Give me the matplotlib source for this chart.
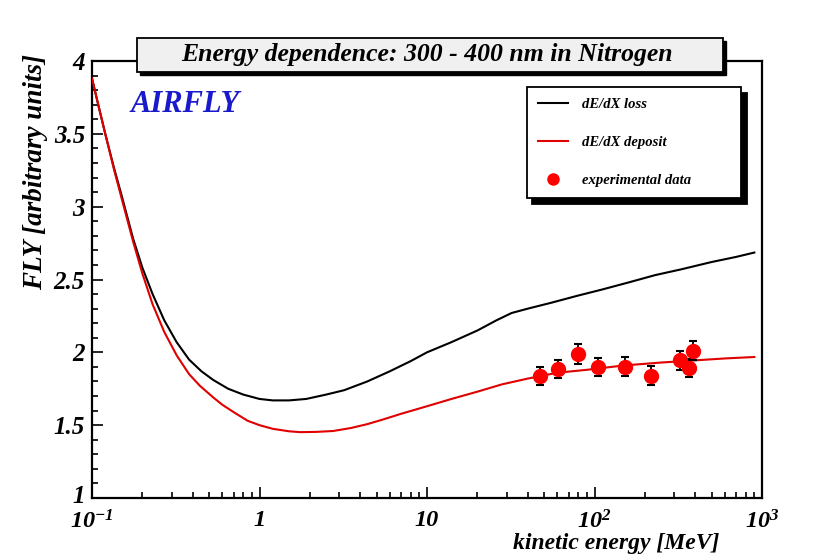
import matplotlib
matplotlib.use("Agg")
import matplotlib.pyplot as plt
import matplotlib.transforms as mtransforms
from matplotlib.patches import Rectangle
from matplotlib.lines import Line2D
import numpy as np

plt.rcParams['font.family'] = ['Liberation Serif', 'DejaVu Serif']
plt.rcParams['mathtext.fontset'] = 'custom'
plt.rcParams['mathtext.rm'] = 'Liberation Serif:italic:bold'
plt.rcParams['mathtext.bf'] = 'Liberation Serif:italic:bold'
plt.rcParams['mathtext.it'] = 'Liberation Serif:italic:bold'

# energy dependence curves (MeV, FLY)
loss_e = [0.1, 0.11, 0.12, 0.135, 0.15, 0.176, 0.2, 0.23, 0.27, 0.32, 0.38, 0.45,
          0.53, 0.65, 0.8, 1.0, 1.2, 1.5, 1.9, 2.5, 3.2, 4.4, 6, 8, 10, 14, 20,
          26, 32, 40, 55, 80, 110, 160, 230, 330, 500, 700, 900]
loss_fly = [3.88, 3.68, 3.50, 3.27, 3.08, 2.78, 2.58, 2.40, 2.22, 2.07, 1.95, 1.87,
            1.81, 1.75, 1.71, 1.68, 1.67, 1.67, 1.68, 1.71, 1.74, 1.80, 1.87, 1.94,
            2.00, 2.07, 2.15, 2.22, 2.27, 2.30, 2.34, 2.39, 2.43, 2.48, 2.53, 2.57,
            2.62, 2.655, 2.685]

dep_e = [0.1, 0.11, 0.12, 0.135, 0.15, 0.176, 0.2, 0.23, 0.27, 0.32, 0.38, 0.441,
         0.53, 0.6, 0.7, 0.85, 1.0, 1.2, 1.5, 1.75, 2.2, 2.75, 3.5, 4.4, 5.5, 7,
         10, 14, 20, 28, 40, 60, 90, 150, 250, 400, 600, 900]
dep_fly = [3.88, 3.68, 3.50, 3.26, 3.06, 2.76, 2.54, 2.33, 2.14, 1.98, 1.85, 1.77,
           1.69, 1.64, 1.59, 1.53, 1.50, 1.475, 1.458, 1.452, 1.454, 1.46, 1.48,
           1.507, 1.54, 1.578, 1.63, 1.68, 1.73, 1.78, 1.82, 1.86, 1.88, 1.91,
           1.93, 1.945, 1.958, 1.968]

# measured points
exp_e = [47.3, 60.8, 80, 105, 153, 217, 324, 368, 389]
exp_fly = [1.838, 1.884, 1.988, 1.899, 1.902, 1.840, 1.947, 1.895, 2.012]
exp_err = [0.060, 0.062, 0.066, 0.063, 0.065, 0.064, 0.065, 0.062, 0.063]

xtick_vals = [0.1, 1, 10, 100, 1000]
xtick_labels = [r'$10^{-1}$', '1', '10', r'$10^{2}$', r'$10^{3}$']
ytick_vals = [1, 1.5, 2, 2.5, 3, 3.5, 4]
ytick_labels = ['1', '1.5', '2', '2.5', '3', '3.5', '4']

bi = dict(weight='bold', style='italic')

fig = plt.figure(figsize=(8.34, 5.56), dpi=100)
ax = fig.add_axes([92/834, 1-498/556, 670/834, 437/556])

ax.plot(loss_e, loss_fly, color='black', lw=1.5, zorder=3)
ax.plot(dep_e, dep_fly, color='#e00000', lw=1.5, zorder=3)
ax.errorbar(exp_e, exp_fly, yerr=exp_err, fmt='o', color='black', ecolor='black',
            mfc='red', mec='red', ms=10, elinewidth=1.3, capsize=3, capthick=1.5, zorder=4)

ax.set_xscale('log')
ax.set_xlim(0.1, 1000)
ax.set_ylim(1, 4)
ax.set_xticks(xtick_vals)
ax.set_xticklabels(xtick_labels, fontsize=17.5, **bi)
ax.set_yticks(ytick_vals)
ax.set_yticklabels(ytick_labels, fontsize=18, **bi)
ax.set_yticks(np.arange(1, 4.01, 0.1), minor=True)
ax.tick_params(axis='both', which='both', direction='in', top=False, right=False, width=1.2)
ax.tick_params(axis='y', which='major', length=8, pad=5)
ax.tick_params(axis='y', which='minor', length=4)
ax.tick_params(axis='x', which='major', length=8, pad=9)
ax.tick_params(axis='x', which='minor', length=4, labelbottom=False)
for s in ax.spines.values():
    s.set_linewidth(1.6)

# lift the bottom "1" a touch so it clears the 10^-1 label
lbl = ax.get_yticklabels()[0]
lbl.set_transform(lbl.get_transform() + mtransforms.ScaledTranslation(0, 4/100, fig.dpi_scale_trans))

# AIRFLY tag
ax.text(0.057, 0.90, 'AIRFLY', transform=ax.transAxes, color='#1a1acc',
        fontsize=22, ha='left', va='center', **bi)

# legend
h_loss = Line2D([], [], color='black', lw=1.5)
h_dep = Line2D([], [], color='#e00000', lw=1.5)
h_exp = Line2D([], [], ls='none', marker='o', color='red', ms=8)
leg = ax.legend([h_loss, h_dep, h_exp], ['dE/dX loss', 'dE/dX deposit', 'experimental data'],
                loc='upper left', bbox_to_anchor=(0.649, 0.94, 0.32, 0.0), mode='expand',
                prop=dict(family='Liberation Serif', weight='bold', style='italic', size=10.5),
                frameon=True, fancybox=False, edgecolor='black', framealpha=1,
                labelspacing=1.7, handlelength=2.1, handletextpad=0.9, borderpad=0.75,
                borderaxespad=0,
                shadow={'ox': 4, 'oy': -4, 'facecolor': 'black', 'edgecolor': 'black', 'alpha': 1})
leg.get_frame().set_linewidth(1.3)

# title box with shadow
bx, by, bw, bh = 137/834, 1-72/556, 586/834, 34/556
fig.add_artist(Rectangle((bx + 3/834, by - 3/556), bw, bh, transform=fig.transFigure,
                         facecolor='black', edgecolor='black', zorder=5))
fig.add_artist(Rectangle((bx, by), bw, bh, transform=fig.transFigure,
                         facecolor='#f0f0f0', edgecolor='black', lw=1.3, zorder=6))
fig.text(bx + bw/2 - 3/834, by + bh/2, 'Energy dependence: 300 - 400 nm in Nitrogen',
         ha='center', va='center', fontsize=18.5, zorder=7, **bi)

fig.text(36/834, 1-172/556, 'FLY [arbitrary units]', rotation=90, ha='center', va='center',
         fontsize=19.5, **bi)
fig.text(719/834, 1-543/556, 'kinetic energy [MeV]', ha='right', va='center',
         fontsize=17, **bi)

fig.savefig('out.png', dpi=100)
